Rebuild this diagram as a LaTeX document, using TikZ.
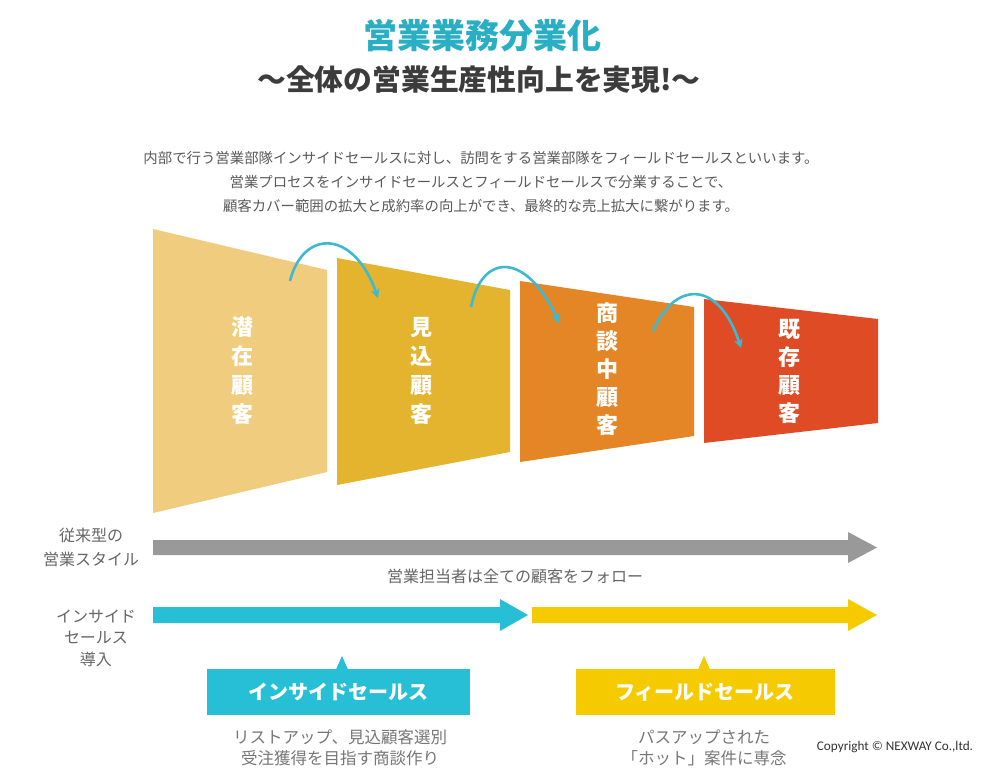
\documentclass[tikz,border=0pt]{standalone}
\usepackage{fontspec}
\setmainfont{Noto Sans CJK JP}
\newfontfamily\latinf{Carlito}
\usetikzlibrary{arrows.meta}
\definecolor{titleteal}{HTML}{2AAEC3}
\definecolor{subdark}{HTML}{3C3C3C}
\definecolor{paragray}{HTML}{5A5A5A}
\definecolor{labelgray}{HTML}{666666}
\definecolor{subgray}{HTML}{777777}
\definecolor{stageA}{HTML}{F0CC7E}
\definecolor{stageB}{HTML}{E4B42E}
\definecolor{stageC}{HTML}{E48526}
\definecolor{stageD}{HTML}{DF4B25}
\definecolor{arrowteal}{HTML}{3DBAD2}
\definecolor{blockgray}{HTML}{999999}
\definecolor{blockcyan}{HTML}{27BFD6}
\definecolor{blockyellow}{HTML}{F5CB00}
\tikzset{
  stagetxt/.style={text=white, font=\bfseries\fontsize{22}{29}\selectfont, align=center, inner sep=0pt},
  lbltxt/.style={text=labelgray, font=\fontsize{16}{22}\selectfont, align=center, inner sep=0pt},
  subtxt/.style={text=subgray, font=\fontsize{16.5}{21}\selectfont, align=center, inner sep=0pt},
  boxtxt/.style={text=white, font=\bfseries\fontsize{20}{24}\selectfont, inner sep=0pt},
  curvearrow/.style={draw=arrowteal, line width=2.6pt, -{Stealth[length=9pt,width=9pt]}},
}
\begin{document}
\begin{tikzpicture}[x=1pt,y=-1pt]
\useasboundingbox (0,0) rectangle (996,782);
\fill[white] (0,0) rectangle (996,782);

% titles
\node[text=titleteal, font=\bfseries\fontsize{34}{40}\selectfont, inner sep=0pt] (title) at (482,36) {営業業務分業化};
\node[text=subdark, font=\bfseries\fontsize{28.8}{34}\selectfont, inner sep=0pt] (subtitle) at (479,80) {～全体の営業生産性向上を実現!～};
\node[text=paragray, font=\fontsize{14.4}{24}\selectfont, align=center, inner sep=0pt] (para) at (481,182)
  {内部で行う営業部隊インサイドセールスに対し、訪問をする営業部隊をフィールドセールスといいます。\\
   営業プロセスをインサイドセールスとフィールドセールスで分業することで、\\
   顧客カバー範囲の拡大と成約率の向上ができ、最終的な売上拡大に繋がります。};

% stages
\fill[stageA] (153,229) -- (327,270) -- (327,472) -- (153,513) -- cycle;
\fill[stageB] (337,258) -- (510,290) -- (510,452) -- (337,485) -- cycle;
\fill[stageC] (520,281) -- (694,307) -- (694,436) -- (520,462) -- cycle;
\fill[stageD] (704,299) -- (878,319) -- (878,423) -- (704,443) -- cycle;
\node[stagetxt] (s1) at (242,371) {潜\\在\\顧\\客};
\node[stagetxt] (s2) at (421,371) {見\\込\\顧\\客};
\node[stagetxt, font=\bfseries\fontsize{22}{28}\selectfont] (s3) at (607,369) {商\\談\\中\\顧\\客};
\node[stagetxt, font=\bfseries\fontsize{22}{28}\selectfont] (s4) at (789,371) {既\\存\\顧\\客};

% curved arrows
\coordinate (a1s) at (290,281); \coordinate (a1e) at (378,298);
\coordinate (a2s) at (471,307); \coordinate (a2e) at (559,323);
\coordinate (a3s) at (653,331); \coordinate (a3e) at (741,348);
\draw[curvearrow] (a1s) .. controls (303,229) and (354,229) .. (a1e);
\draw[curvearrow] (a2s) .. controls (482,252) and (527,252) .. (a2e);
\draw[curvearrow] (a3s) .. controls (675,280) and (719,280) .. (a3e);

% left labels
\node[lbltxt, font=\fontsize{16}{24}\selectfont] (lbl1) at (91,547) {従来型の\\営業スタイル};
\node[lbltxt, font=\fontsize{16}{21.5}\selectfont] (lbl2) at (96,638) {インサイド\\セールス\\導入};

% block arrows
\fill[blockgray] (153,540) -- (848,540) -- (848,532) -- (877,547.5) -- (848,563) -- (848,555) -- (153,555) -- cycle;
\node[lbltxt] (follow) at (515,576) {営業担当者は全ての顧客をフォロー};
\fill[blockcyan] (153,607) -- (500,607) -- (500,599) -- (528,615) -- (500,631) -- (500,623) -- (153,623) -- cycle;
\fill[blockyellow] (532,607) -- (848,607) -- (848,599) -- (877,615) -- (848,631) -- (848,623) -- (532,623) -- cycle;

% callout boxes
\fill[blockcyan] (207,669) rectangle (470,715);
\fill[blockcyan] (336,669.5) -- (342,656) -- (348,669.5) -- cycle;
\node[boxtxt] (isbox) at (338,692) {インサイドセールス};
\fill[blockyellow] (576,669) rectangle (835,715);
\fill[blockyellow] (698,669.5) -- (704,656) -- (710,669.5) -- cycle;
\node[boxtxt] (fsbox) at (705,692) {フィールドセールス};

\node[subtxt] (issub) at (340,747.5) {リストアップ、見込顧客選別\\受注獲得を目指す商談作り};
\node[subtxt] (fssub) at (704,747.5) {パスアップされた\\「ホット」案件に専念};

\node[text=black!80, font=\latinf\fontsize{13.2}{15}\selectfont, inner sep=0pt] (copy) at (895,747) {Copyright © NEXWAY Co.,ltd.};
\end{tikzpicture}
\end{document}
